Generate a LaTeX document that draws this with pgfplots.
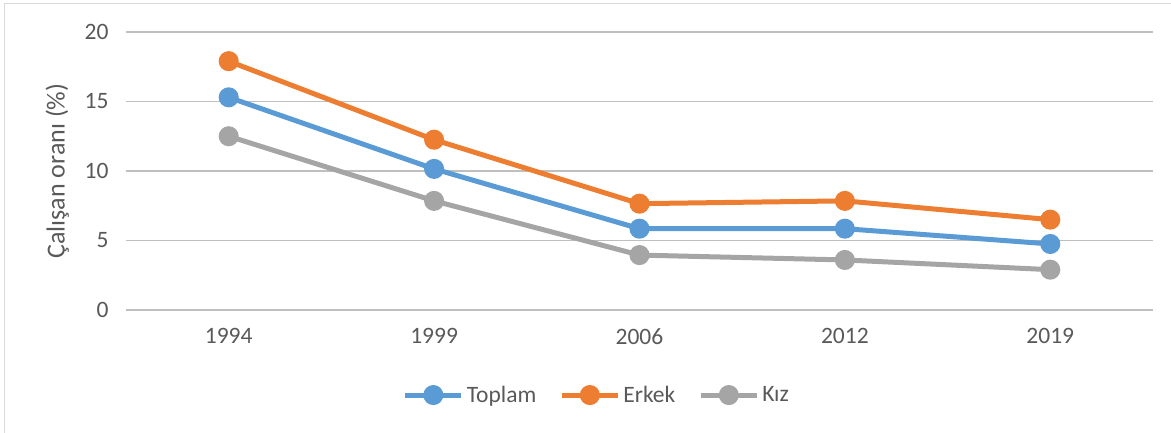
\documentclass[border=0pt]{standalone}
\usepackage{pgfplots}
\pgfplotsset{compat=1.18}
\usepackage{fontspec}
\setmainfont{Carlito}
\definecolor{cblue}{HTML}{5B9BD5}
\definecolor{corange}{HTML}{ED7D31}
\definecolor{cgray}{HTML}{A5A5A5}
\definecolor{grid}{HTML}{D9D9D9}
\definecolor{txt}{HTML}{595959}
\begin{document}
\begin{tikzpicture}[x=1bp,y=1bp]
\useasboundingbox (0,0) rectangle (1171,433);
\draw[grid, line width=1.5bp] (4.5,0) -- (4.5,429.5) -- (1171,429.5);
\begin{axis}[
  at={(126bp,123bp)}, anchor=south west,
  scale only axis, width=1027bp, height=278bp,
  xmin=-0.5, xmax=4.5, ymin=0, ymax=20,
  xtick={0,1,2,3,4}, xticklabels={1994,1999,2006,2012,2019},
  ytick={0,5,10,15,20},
  xmajorgrids=false, ymajorgrids=true, grid style={grid, line width=1.5bp},
  axis line style={draw=none},
  major tick length=0pt,
  tick label style={font=\fontsize{23.5bp}{28bp}\selectfont, text=txt},
  /pgf/number format/assume math mode=true,
  xticklabel style={yshift=-15bp},
  yticklabel style={xshift=-14bp},
  ylabel={\fontsize{26bp}{30bp}\selectfont Çalışan oranı (\%)},
  ylabel style={text=txt, at={(axis description cs:-0.067,0.5)}, anchor=center},
  legend columns=3,
  legend style={draw=none, fill=none, at={(axis description cs:0.458,-0.306)}, anchor=center,
    font=\fontsize{23.5bp}{28bp}\selectfont, text=txt,
    /tikz/every odd column/.append style={column sep=2bp},
    /tikz/every even column/.append style={column sep=22bp},
    nodes={inner sep=1bp}},
  legend image code/.code={\draw[mark repeat=2,mark phase=2] plot coordinates {(0bp,0bp) (28bp,0bp) (56bp,0bp)};},
  every axis plot/.append style={line width=5bp, mark=*, mark options={scale=1, line width=0.5bp}, mark size=7.5bp},
  clip=false,
]
\addplot[color=cblue, mark options={fill=cblue, draw=cblue}] coordinates {(0,15.3) (1,10.15) (2,5.85) (3,5.85) (4,4.75)};
\addlegendentry{Toplam}
\addplot[color=corange, mark options={fill=corange, draw=corange}] coordinates {(0,17.9) (1,12.25) (2,7.65) (3,7.85) (4,6.5)};
\addlegendentry{Erkek}
\addplot[color=cgray, mark options={fill=cgray, draw=cgray}] coordinates {(0,12.5) (1,7.85) (2,3.95) (3,3.6) (4,2.9)};
\addlegendentry{Kız}
\end{axis}
\end{tikzpicture}
\end{document}
